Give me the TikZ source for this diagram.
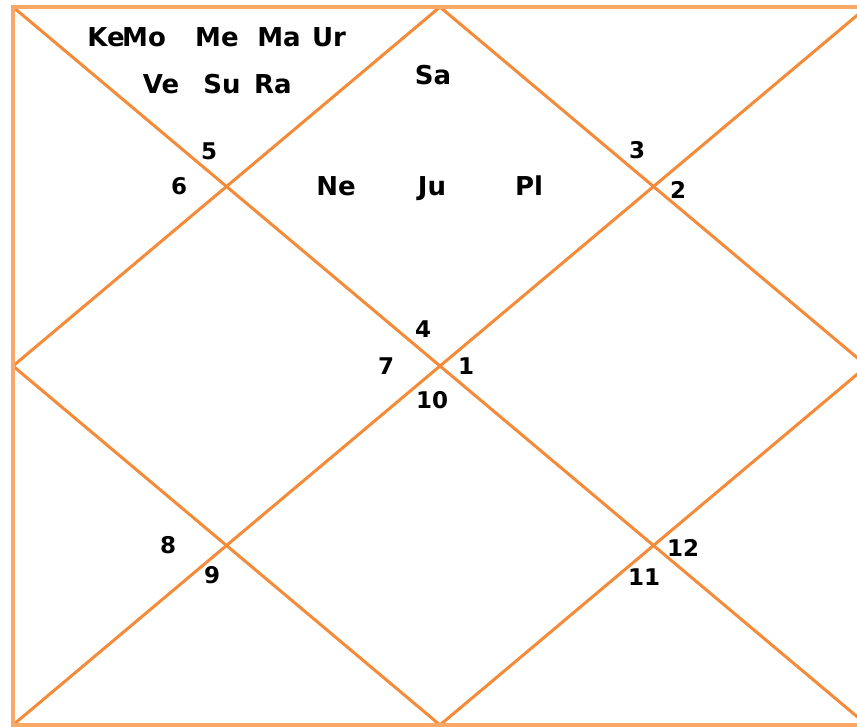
\documentclass[tikz,border=0pt]{standalone}
\usepackage{fontspec}
\setmainfont{DejaVu Sans}
\definecolor{lineorange}{HTML}{F58A38}
\definecolor{borderorange}{HTML}{F9A865}
\begin{document}
\begin{tikzpicture}[x=1pt,y=-1pt,
  chartline/.style={draw=lineorange, line width=3pt},
  borderline/.style={draw=borderorange, line width=3.6pt},
  planet/.style={inner sep=0pt, text height=19pt, text depth=0pt, font=\fontsize{26}{28}\selectfont\bfseries},
  housenum/.style={inner sep=0pt, text height=16.8pt, text depth=0pt, font=\fontsize{23}{25}\selectfont\bfseries}]
\useasboundingbox (0,0) rectangle (857,727);
\coordinate (TL) at (13,7);
\coordinate (TR) at (867,7);
\coordinate (BR) at (867,725);
\coordinate (BL) at (13,725);
\coordinate (T) at (440,7);
\coordinate (L) at (13,366);
\coordinate (B) at (440,725);
\coordinate (R) at (867,366);
\begin{scope}
\clip (0,0) rectangle (857,727);
\draw[chartline] (TL) -- (BR);
\draw[chartline] (BL) -- (TR);
\draw[chartline] (T) -- (R) -- (B) -- (L) -- cycle;
\draw[borderline] (TL) -- (TR) -- (BR) -- (BL) -- cycle;
\end{scope}
% planets
\node[planet] (ke) at (106,37) {Ke};
\node[planet] (mo) at (144,37) {Mo};
\node[planet] (me) at (217,37) {Me};
\node[planet] (ma) at (279,37) {Ma};
\node[planet] (ur) at (329,37) {Ur};
\node[planet] (ve) at (161,84) {Ve};
\node[planet] (su) at (222,84) {Su};
\node[planet] (ra) at (273,84) {Ra};
\node[planet] (sa) at (433,75) {Sa};
\node[planet] (ne) at (336,186) {Ne};
\node[planet] (ju) at (432,186) {Ju};
\node[planet] (pl) at (529,186) {Pl};
% house numbers
\node[housenum] (h5) at (209,151) {5};
\node[housenum] (h6) at (179,186) {6};
\node[housenum] (h3) at (637,150) {3};
\node[housenum] (h2) at (678,190) {2};
\node[housenum] (h4) at (423,329) {4};
\node[housenum] (h7) at (386,366) {7};
\node[housenum] (h1) at (466,366) {1};
\node[housenum] (h10) at (432,400) {10};
\node[housenum] (h8) at (168,545) {8};
\node[housenum] (h9) at (212,575) {9};
\node[housenum] (h12) at (683,548) {12};
\node[housenum] (h11) at (644,577) {11};
\end{tikzpicture}
\end{document}
